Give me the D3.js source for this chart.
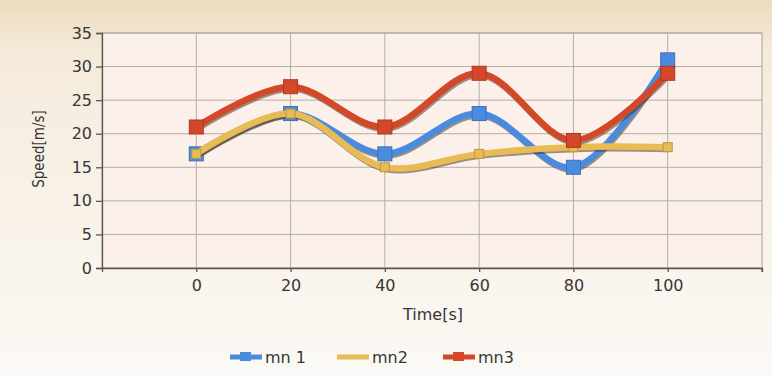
<!DOCTYPE html>
<html>
<head>
<meta charset="utf-8">
<script src="https://cdn.jsdelivr.net/npm/d3@7"></script>
<style>
  body { margin: 0; background: #fff; }
  svg { display: block; }
  text { font-family: "DejaVu Sans", Verdana, sans-serif; fill: #363636; }
</style>
</head>
<body>
<svg width="772" height="376"></svg>
<script>
// chart data
var times = [0, 20, 40, 60, 80, 100];
var mn1 = [17, 23, 17, 23, 15, 31];
var mn2 = [17, 23, 15, 17, 18, 18];
var mn3 = [21, 27, 21, 29, 19, 29];
var yTicks = [0, 5, 10, 15, 20, 25, 30, 35];
var seriesNames = ["mn 1", "mn2", "mn3"];
var seriesColors = ["#4a8be0", "#e9bb55", "#d4482a"];

var svg = d3.select("svg");

// background gradient
var defs = svg.append("defs");
var bg = defs.append("linearGradient").attr("id", "bg")
    .attr("x1", 0).attr("y1", 0).attr("x2", 0).attr("y2", 1);
bg.append("stop").attr("offset", "0%").attr("stop-color", "#ecdbbd");
bg.append("stop").attr("offset", "14%").attr("stop-color", "#f5ebdc");
bg.append("stop").attr("offset", "100%").attr("stop-color", "#fbf9f5");
svg.append("rect").attr("width", 772).attr("height", 376).attr("fill", "url(#bg)");

var x = d3.scaleLinear().domain([-20, 120]).range([102, 762]);
var y = d3.scaleLinear().domain([0, 35]).range([268, 33]);

// plot area
svg.append("rect")
    .attr("x", x(-20)).attr("y", y(35))
    .attr("width", x(120) - x(-20)).attr("height", y(0) - y(35))
    .attr("fill", "#fcf1ea").attr("stroke", "#a9a29b");

// grid
svg.append("g").selectAll("line").data(yTicks).enter().append("line")
    .attr("x1", x(-20)).attr("x2", x(120))
    .attr("y1", function(d) { return y(d); }).attr("y2", function(d) { return y(d); })
    .attr("stroke", "#b5ada5").attr("stroke-width", 1);
svg.append("g").selectAll("line").data(times).enter().append("line")
    .attr("y1", y(0)).attr("y2", y(35))
    .attr("x1", function(d) { return x(d); }).attr("x2", function(d) { return x(d); })
    .attr("stroke", "#b5ada5").attr("stroke-width", 1);

// axes
var yAxis = svg.append("g").attr("transform", "translate(" + x(-20) + ",0)")
    .call(d3.axisLeft(y).tickValues(yTicks).tickSize(6).tickPadding(4));
var xAxis = svg.append("g").attr("transform", "translate(0," + y(0) + ")")
    .call(d3.axisBottom(x).tickValues(times).tickSize(4).tickPadding(8));
[xAxis, yAxis].forEach(function(a) {
  a.select(".domain").attr("stroke", "#5a5652").attr("stroke-width", 1.3);
  a.selectAll(".tick line").attr("stroke", "#5a5652").attr("stroke-width", 1.3);
  a.selectAll("text").style("font-size", "16px").style("font-family", "DejaVu Sans")
      .attr("fill", "#363636");
});
// end tick at right of x axis
svg.append("line").attr("x1", x(120)).attr("x2", x(120))
    .attr("y1", y(0)).attr("y2", y(0) + 4).attr("stroke", "#5a5652").attr("stroke-width", 1.3);

// axis titles
svg.append("text").attr("x", 433).attr("y", 320)
    .attr("text-anchor", "middle").style("font-size", "16px").text("Time[s]");
svg.append("text")
    .attr("transform", "translate(44,149) rotate(-90)")
    .attr("text-anchor", "middle")
    .style("font-size", "15px").style("font-family", "DejaVu Sans Condensed, DejaVu Sans")
    .text("Speed[m/s]");

// lines
var allSeries = [mn1, mn2, mn3];
var line = d3.line()
    .x(function(d, i) { return x(times[i]); })
    .y(function(d) { return y(d); })
    .curve(d3.curveCatmullRom.alpha(0.5));

[0, 1, 2].forEach(function(k) {
  var data = allSeries[k];
  var g = svg.append("g");
  g.append("path").datum(data).attr("d", line)
      .attr("transform", "translate(1,2)")
      .attr("fill", "none").attr("stroke", "#3d2a1a").attr("stroke-opacity", 0.5)
      .attr("stroke-width", 6);
  g.append("path").datum(data).attr("d", line)
      .attr("fill", "none").attr("stroke", seriesColors[k])
      .attr("stroke-width", 6.5).attr("stroke-linecap", "round");
  var size = k === 1 ? 9 : 14;
  g.selectAll("rect").data(data).enter().append("rect")
      .attr("x", function(d, i) { return x(times[i]) - size / 2; })
      .attr("y", function(d) { return y(d) - size / 2; })
      .attr("width", size).attr("height", size)
      .attr("fill", seriesColors[k])
      .attr("stroke", d3.color(seriesColors[k]).darker(0.6)).attr("stroke-width", 1);
});

// legend
var legendX = [230, 337, 443];
var legend = svg.append("g");
seriesNames.forEach(function(n, i) {
  legend.append("line").attr("x1", legendX[i]).attr("x2", legendX[i] + 32)
      .attr("y1", 357).attr("y2", 357)
      .attr("stroke", seriesColors[i]).attr("stroke-width", 5);
  if (i !== 1) {
    legend.append("rect").attr("x", legendX[i] + 10).attr("y", 352)
        .attr("width", 11).attr("height", 9).attr("fill", seriesColors[i]);
  }
  legend.append("text").attr("x", legendX[i] + 35).attr("y", 363)
      .style("font-size", "16px").text(n);
});
</script>
</body>
</html>
